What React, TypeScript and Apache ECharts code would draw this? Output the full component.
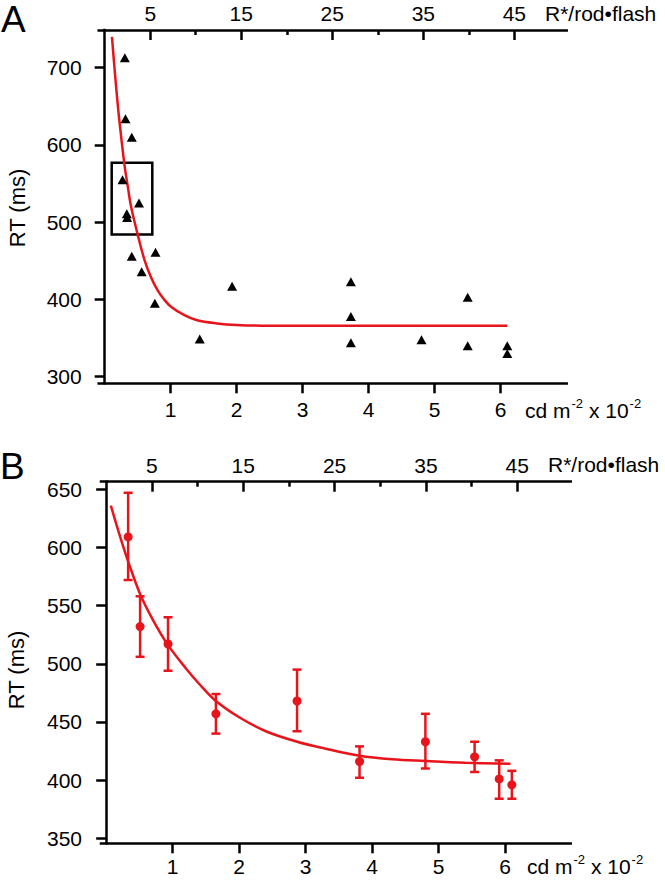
import React, { useEffect, useRef } from "react";
import * as echarts from "echarts";

// ---------- data ----------
// Panel A: individual responses (luminance in cd m^-2 x 10^-2, RT in ms)
const aPoints: [number, number][] = [
  [0.305, 713], [0.315, 634], [0.41, 610], [0.27, 555], [0.52, 525],
  [0.335, 511], [0.34, 506], [0.41, 456], [0.77, 461], [0.56, 436],
  [0.76, 395], [1.44, 349], [1.93, 417], [3.73, 423], [3.73, 378],
  [3.73, 344], [4.8, 348], [5.5, 403], [5.5, 340], [6.1, 340], [6.1, 330],
];
// Panel A: fitted curve
const aFit: [number, number][] = [
  [0.11, 740], [0.15, 698], [0.2, 650], [0.25, 610], [0.3, 574], [0.35, 546],
  [0.4, 520], [0.5, 484], [0.6, 452], [0.7, 429], [0.8, 412], [0.9, 400],
  [1.0, 391], [1.2, 380], [1.4, 373], [1.7, 369], [2.0, 367], [2.5, 366],
  [3.5, 366], [4.5, 366], [6.1, 366],
];
// Panel A: highlighted box corners [x, y]
const aBox: [number, number][] = [[0.106, 577], [0.721, 484]];

// Panel B: means and error bars (x, low, high)
const bMeans: [number, number][] = [
  [0.33, 609], [0.51, 532], [0.93, 517], [1.65, 457], [2.87, 468],
  [3.81, 416], [4.8, 433], [5.54, 420], [5.91, 401], [6.1, 396],
];
const bErrors: [number, number, number][] = [
  [0.33, 572, 647], [0.51, 506, 558], [0.93, 494, 540], [1.65, 440, 474],
  [2.87, 442, 495], [3.81, 402, 429], [4.8, 410, 457], [5.54, 407, 433],
  [5.91, 384, 417], [6.1, 384, 408],
];
const bFit: [number, number][] = [
  [0.07, 636], [0.2, 611], [0.33, 588], [0.51, 560], [0.7, 538], [0.93, 516],
  [1.2, 496], [1.41, 482], [1.65, 468], [2.0, 454], [2.4, 442], [2.87, 433],
  [3.3, 427], [3.81, 421], [4.3, 418], [4.8, 416.5], [5.4, 415], [6.08, 414],
];

// ticks
const bottomTicks = [1, 2, 3, 4, 5, 6];
const topMajorTicks = [5, 15, 25, 35, 45];
const topMinorTicks = [10, 20, 30, 40];
const aYTicks = [300, 400, 500, 600, 700];
const bYTicks = [350, 400, 450, 500, 550, 600, 650];

// axis ranges
const aXRange = [-0.091, 7.0];
const aYRange = [291.5, 748.8];
const bXRange = [-0.078, 6.985];
const bYRange = [345.7, 656.5];
const aRstarPerUnit = 7.25;
const bRstarPerUnit = 7.28;

const RED = "#e8141b";
const FONT = "'Liberation Sans', Arial, Helvetica, sans-serif";
const LW = 2.5;

function bottomAxis(grid: number, range: number[], margin: number) {
  return {
    type: "value",
    gridIndex: grid,
    position: "bottom",
    min: range[0],
    max: range[1],
    axisLine: { show: true, lineStyle: { color: "#000", width: LW, cap: "square" } },
    axisTick: { show: true, customValues: bottomTicks, length: 10, lineStyle: { color: "#000", width: LW } },
    axisLabel: { show: true, customValues: bottomTicks, margin, fontSize: 21, color: "#000", fontFamily: FONT },
    splitLine: { show: false },
  };
}

function topAxis(grid: number, range: number[], k: number, minor: boolean) {
  return {
    type: "value",
    gridIndex: grid,
    position: "top",
    min: range[0] * k,
    max: range[1] * k,
    axisLine: { show: !minor, lineStyle: { color: "#000", width: LW, cap: "square" } },
    axisTick: {
      show: true,
      inside: true,
      customValues: minor ? topMinorTicks : topMajorTicks,
      length: minor ? 5 : 10,
      lineStyle: { color: "#000", width: LW },
    },
    axisLabel: {
      show: !minor,
      customValues: topMajorTicks,
      margin: 6,
      fontSize: 21,
      color: "#000",
      fontFamily: FONT,
    },
    splitLine: { show: false },
  };
}

function leftAxis(grid: number, range: number[], ticks: number[], margin: number) {
  return {
    type: "value",
    gridIndex: grid,
    position: "left",
    min: range[0],
    max: range[1],
    axisLine: { show: true, lineStyle: { color: "#000", width: LW, cap: "square" } },
    axisTick: { show: true, customValues: ticks, length: 10, lineStyle: { color: "#000", width: LW } },
    axisLabel: { show: true, customValues: ticks, margin, fontSize: 21, color: "#000", fontFamily: FONT },
    splitLine: { show: false },
  };
}

function unitText(x: number, y: number) {
  return {
    type: "text",
    x,
    y,
    style: {
      text: "cd m{s|-2} x 10{s|-2}",
      font: `21px ${FONT}`,
      fill: "#000",
      align: "left",
      verticalAlign: "middle",
      rich: {
        s: { fontSize: 13, fontFamily: FONT, fill: "#000", padding: [0, 0, 14, 1] },
      },
    },
  };
}

function plainText(text: string, x: number, y: number, size: number, extra: any = {}) {
  return {
    type: "text",
    x,
    y,
    ...extra,
    style: {
      text,
      font: `${size}px ${FONT}`,
      fill: "#000",
      align: extra.align || "left",
      verticalAlign: "middle",
    },
  };
}

export default function App() {
  const ref = useRef<HTMLDivElement>(null);

  useEffect(() => {
    document.body.style.margin = "0";
    if (!ref.current) return;
    const chart = echarts.init(ref.current, undefined, { renderer: "svg" });

    const option: any = {
      animation: false,
      backgroundColor: "#fff",
      grid: [
        { left: 98.7, top: 30, width: 468, height: 353.3 },
        { left: 101, top: 481.7, width: 469.7, height: 361.6 },
      ],
      xAxis: [
        bottomAxis(0, aXRange, 16),
        topAxis(0, aXRange, aRstarPerUnit, false),
        topAxis(0, aXRange, aRstarPerUnit, true),
        bottomAxis(1, bXRange, 13),
        topAxis(1, bXRange, bRstarPerUnit, false),
        topAxis(1, bXRange, bRstarPerUnit, true),
      ],
      yAxis: [
        leftAxis(0, aYRange, aYTicks, 17),
        leftAxis(1, bYRange, bYTicks, 19),
      ],
      series: [
        {
          type: "line",
          xAxisIndex: 0,
          yAxisIndex: 0,
          data: aFit,
          smooth: 0.35,
          showSymbol: false,
          lineStyle: { color: RED, width: LW },
          z: 2,
        },
        {
          type: "scatter",
          xAxisIndex: 0,
          yAxisIndex: 0,
          data: aPoints,
          symbol: "triangle",
          symbolSize: [10, 9],
          itemStyle: { color: "#000", opacity: 1 },
          z: 3,
          markArea: {
            silent: true,
            label: { show: false },
            itemStyle: { color: "rgba(0,0,0,0)", borderColor: "#000", borderWidth: LW },
            data: [[{ coord: aBox[0] }, { coord: aBox[1] }]],
          },
        },
        {
          type: "line",
          xAxisIndex: 3,
          yAxisIndex: 1,
          data: bFit,
          smooth: 0.35,
          showSymbol: false,
          lineStyle: { color: RED, width: LW },
          z: 2,
        },
        {
          type: "custom",
          xAxisIndex: 3,
          yAxisIndex: 1,
          data: bErrors,
          encode: { x: 0, y: [1, 2] },
          z: 3,
          renderItem: (params: any, api: any) => {
            const x = api.value(0);
            const lo = api.value(1);
            const hi = api.value(2);
            const top = api.coord([x, hi]);
            const bot = api.coord([x, lo]);
            const hw = 4.5;
            const style = { stroke: RED, lineWidth: LW, fill: "none" };
            return {
              type: "group",
              children: [
                { type: "line", shape: { x1: top[0], y1: top[1], x2: bot[0], y2: bot[1] }, style },
                { type: "line", shape: { x1: top[0] - hw, y1: top[1], x2: top[0] + hw, y2: top[1] }, style },
                { type: "line", shape: { x1: bot[0] - hw, y1: bot[1], x2: bot[0] + hw, y2: bot[1] }, style },
              ],
            };
          },
        },
        {
          type: "scatter",
          xAxisIndex: 3,
          yAxisIndex: 1,
          data: bMeans,
          symbol: "circle",
          symbolSize: 9,
          itemStyle: { color: RED, opacity: 1 },
          z: 4,
        },
      ],
      graphic: [
        plainText("A", 1, 19, 37),
        plainText("B", 0, 466, 37),
        plainText("R*/rod\u2022flash", 545, 13, 21),
        plainText("R*/rod\u2022flash", 548, 464, 21),
        unitText(525, 410),
        unitText(527, 866),
        plainText("RT (ms)", 17, 208, 22, { rotation: Math.PI / 2, align: "center" }),
        plainText("RT (ms)", 16, 670, 22, { rotation: Math.PI / 2, align: "center" }),
      ],
    };

    chart.setOption(option);
    return () => {
      chart.dispose();
    };
  }, []);

  return <div ref={ref} style={{ width: 665, height: 880 }} />;
}
